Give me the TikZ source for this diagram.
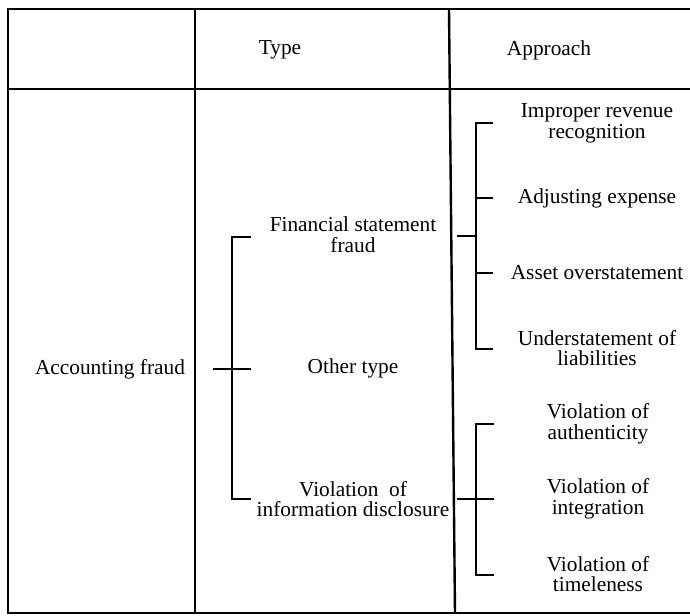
\documentclass[tikz,border=0pt]{standalone}
\usepackage{fontspec}
\setmainfont{Liberation Serif}
\begin{document}
\begin{tikzpicture}[x=0.75pt,y=-0.75pt,line width=1.4pt,
  txt/.style={align=center,inner sep=0pt,font=\fontsize{16}{15.5}\selectfont},
  rule/.style={line width=1.8pt}]
  \useasboundingbox (0,0) rectangle (690,616);
  % table frame
  \draw[rule] (690,9) -- (8,9) -- (8,613) -- (690,613);
  \draw[rule] (8,89) -- (690,89);
  \draw[rule] (195,9) -- (195,613);
  \draw[rule] (449,9) -- (455,613);
  % header
  \node[txt] (type) at (280,50) {Type};
  \node[txt] (approach) at (549,50) {Approach};
  % first and second column
  \node[txt] (fraud) at (110,369) {Accounting fraud};
  \node[txt] (fin) at (353,235) {Financial statement\\fraud};
  \node[txt] (other) at (353,368) {Other type};
  \node[txt] (info) at (353,499) {Violation~ of\\information disclosure};
  % third column
  \node[txt] (revenue) at (597,123) {Improper revenue\\recognition};
  \node[txt] (expense) at (597,198) {Adjusting expense};
  \node[txt] (asset) at (597,273) {Asset overstatement};
  \node[txt] (liab) at (597,348) {Understatement of\\liabilities};
  \node[txt] (auth) at (598,424) {Violation of\\authenticity};
  \node[txt] (integ) at (598,499) {Violation of\\integration};
  \node[txt] (time) at (598,574) {Violation of\\timeleness};
  % brackets
  \coordinate (typeroot) at (232,369);
  \coordinate (finroot) at (476,236);
  \coordinate (inforoot) at (476,499);
  \draw (typeroot) ++(-19,0) -- ++(38,0);
  \draw (251,237) -- (232,237) -- (232,499) -- (251,499);
  \draw (finroot) ++(-19,0) -- (finroot);
  \draw (493,123) -- (476,123) -- (476,349) -- (493,349);
  \foreach \y in {198,273}
    \draw (476,\y) -- (493,\y);
  \draw (inforoot) ++(-19,0) -- ++(37,0);
  \draw (494,424) -- (476,424) -- (476,575) -- (494,575);
\end{tikzpicture}
\end{document}
